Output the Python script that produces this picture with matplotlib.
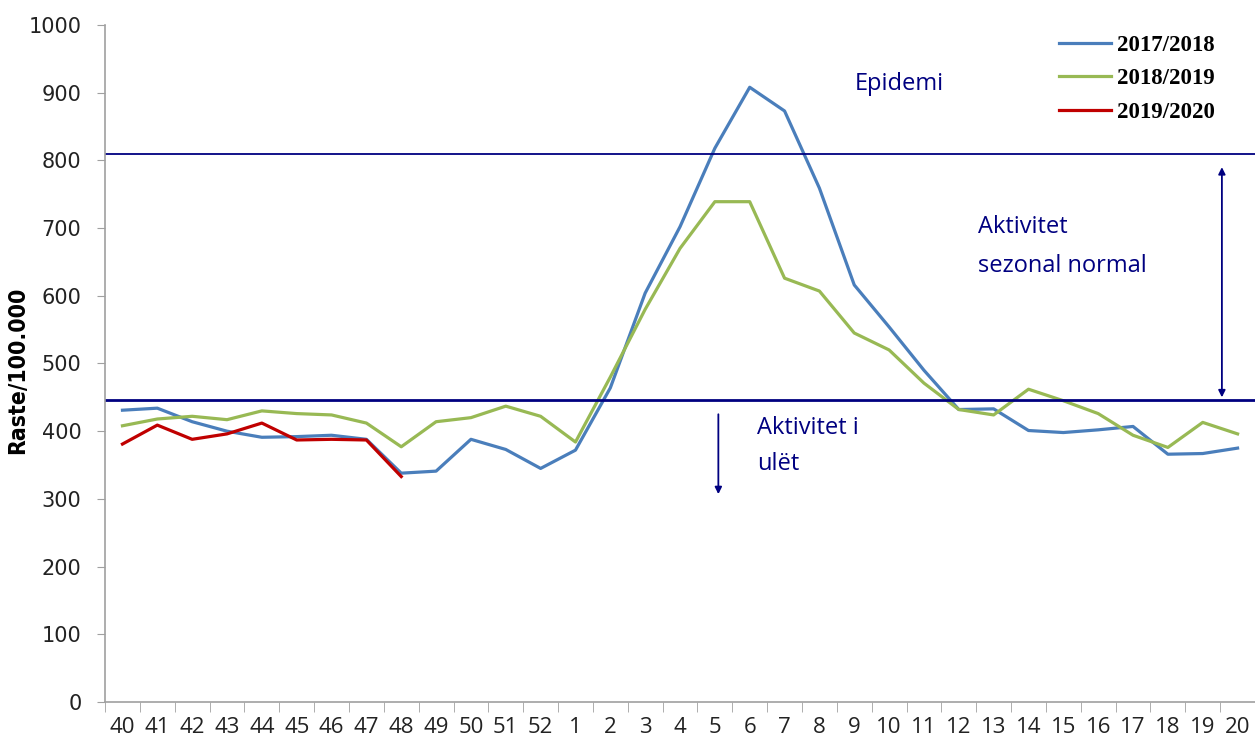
import matplotlib
matplotlib.use("Agg")
import matplotlib.pyplot as plt
import numpy as np

weeks = ["40", "41", "42", "43", "44", "45", "46", "47", "48", "49", "50", "51", "52",
         "1", "2", "3", "4", "5", "6", "7", "8", "9", "10", "11", "12", "13", "14", "15",
         "16", "17", "18", "19", "20"]

s2017 = [431, 434, 414, 400, 391, 392, 394, 388, 338, 341, 388, 373, 345,
         372, 464, 604, 702, 818, 908, 873, 759, 616, 554, 490, 432, 433, 401, 398,
         402, 407, 366, 367, 375]
s2018 = [408, 418, 422, 417, 430, 426, 424, 412, 377, 414, 420, 437, 422,
         384, 480, 580, 670, 739, 739, 626, 607, 545, 520, 471, 432, 424, 462, 445,
         426, 394, 376, 413, 396]
s2019 = [381, 409, 388, 396, 412, 387, 388, 387, 333]

epidemic_level = 810
base_level = 446

navy = "#000080"

fig = plt.figure(figsize=(12.55, 7.48), dpi=100)
ax = fig.add_axes([0.0837, 0.0615, 0.9163, 0.9051])

x = np.arange(len(weeks))
ax.plot(x, s2017, color="#4A7EBB", lw=2.3, label="2017/2018", solid_joinstyle="round")
ax.plot(x, s2018, color="#98B954", lw=2.3, label="2018/2019", solid_joinstyle="round")
ax.plot(x[:len(s2019)], s2019, color="#C00000", lw=2.3, label="2019/2020", solid_joinstyle="round")

ax.axhline(epidemic_level, color=navy, lw=1.3)
ax.axhline(base_level, color=navy, lw=2.0)

ax.set_xlim(-0.5, len(weeks) - 0.5)
ax.set_ylim(0, 1000)
ax.set_yticks(np.arange(0, 1001, 100))
ax.set_xticks(x)
ax.set_xticklabels(weeks, fontsize=16, family="Open Sans")
ax.set_xticks(np.arange(-0.5, len(weeks), 1), minor=True)
ax.tick_params(axis="x", which="major", length=0, pad=11)
ax.tick_params(axis="x", which="minor", length=7, color="#A0A0A0", direction="out")
ax.tick_params(axis="y", length=6, color="#A0A0A0", labelsize=15, pad=11)
for lab in ax.get_yticklabels():
    lab.set_family("DejaVu Sans")
    lab.set_color("#222222")
for lab in ax.get_xticklabels():
    lab.set_color("#222222")

for sp in ["top", "right"]:
    ax.spines[sp].set_visible(False)
for sp in ["left", "bottom"]:
    ax.spines[sp].set_color("#A0A0A0")
    ax.spines[sp].set_linewidth(1.2)

ax.set_ylabel("Raste/100.000", fontsize=16.5, fontweight="bold",
              family="DejaVu Sans", fontstretch="condensed")
ax.yaxis.set_label_coords(-0.066, 0.49)

# annotations
ax.text(21.0, 913, "Epidemi", color=navy, fontsize=17, family="Open Sans", va="center")
ax.text(24.55, 702, "Aktivitet", color=navy, fontsize=17, family="Open Sans", va="center")
ax.text(24.55, 644, "sezonal normal", color=navy, fontsize=17, family="Open Sans", va="center")
ax.text(18.2, 404, "Aktivitet i", color=navy, fontsize=17, family="Open Sans", va="center")
ax.text(18.2, 352, "ulët", color=navy, fontsize=17, family="Open Sans", va="center")

ax.annotate("", xy=(31.55, 450), xytext=(31.55, 790),
            arrowprops=dict(arrowstyle="<|-|>", color=navy, lw=1.3,
                            mutation_scale=10, shrinkA=0, shrinkB=0))
ax.annotate("", xy=(17.1, 307), xytext=(17.1, 425),
            arrowprops=dict(arrowstyle="-|>", color=navy, lw=1.3,
                            mutation_scale=10, shrinkA=0, shrinkB=0))

leg = ax.legend(loc="upper right", bbox_to_anchor=(0.983, 1.016), frameon=False,
                prop={"family": "Liberation Serif", "weight": "bold", "size": 16.5},
                handlelength=2.27, labelspacing=0.55, handletextpad=0.28)

fig.savefig("out.png", dpi=100)
